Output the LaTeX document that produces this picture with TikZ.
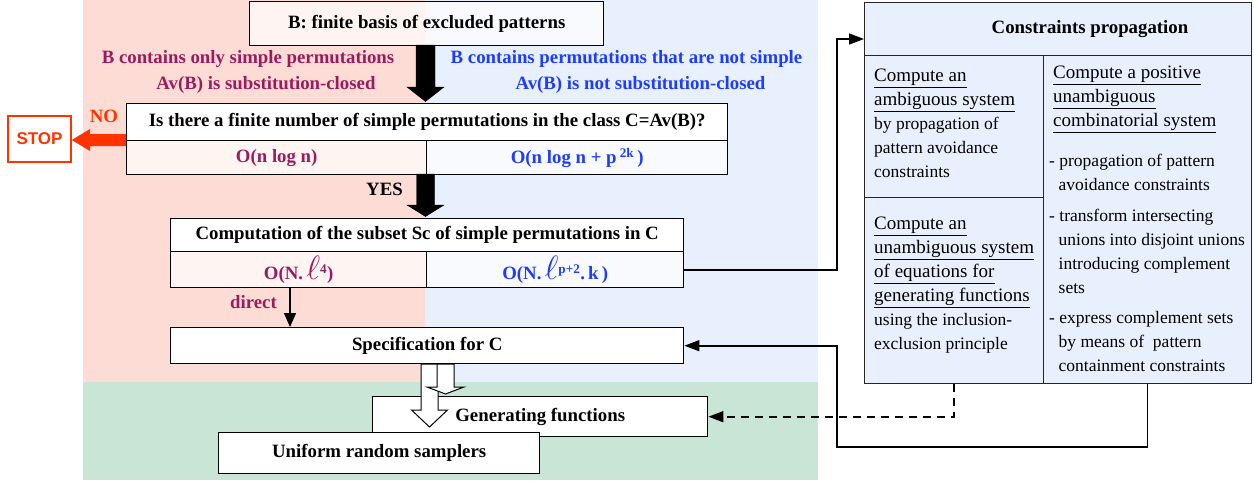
\documentclass[tikz,border=0pt]{standalone}
\usepackage{fontspec}
\usepackage{graphicx}
\setmainfont{Liberation Serif}
\newfontfamily\stopfont{Liberation Sans}
\usetikzlibrary{arrows.meta,calc}
\definecolor{pinkbg}{HTML}{FDDCD6}
\definecolor{bluebg}{HTML}{E8F0FD}
\definecolor{greenbg}{HTML}{C8E5D6}
\definecolor{purp}{HTML}{9B1C5E}
\definecolor{bluet}{HTML}{1E3CFF}
\definecolor{redc}{HTML}{FF3300}
\newcommand{\bfs}{\fontsize{18.8}{22}\selectfont\bfseries}
\newcommand{\rfs}{\fontsize{17.5}{24}\selectfont}
\newcommand{\ufs}{\fontsize{19}{24}\selectfont}
\newcommand{\myell}{\scalebox{1.95}{$\ell$}}
% block arrow: style, x centre, y top, y head base, y tip, half shaft, half head
\newcommand{\barrow}[7]{%
  \draw[#1] (#2-#6,#3) -- (#2+#6,#3) -- (#2+#6,#4) -- (#2+#7,#4) -- (#2,#5)
    -- (#2-#7,#4) -- (#2-#6,#4) -- cycle;}
\begin{document}
\begin{tikzpicture}[x=1pt,y=-1pt,
  box/.style={draw=black,line width=1.4pt,inner sep=0pt,anchor=north west,font=\bfs},
  semi/.style={fill=white,fill opacity=0.7,text opacity=1},
  cbox/.style={draw=black!85,line width=1.2pt,fill=bluebg,inner sep=0pt,anchor=north west},
  conn/.style={line width=1.6pt,-{Triangle[length=15pt,width=11pt]}},
  para/.style={align=left,anchor=north west,inner sep=0pt,font=\rfs},
  blk/.style={fill=black},
  wblk/.style={fill=white,draw=black,line width=1pt},
  lbl/.style={inner sep=0pt,font=\bfs}
]
\useasboundingbox (0,0) rectangle (1254,480);
% backgrounds
\fill[pinkbg] (83,0) rectangle (425,382);
\fill[bluebg] (425,0) rectangle (818,382);
\fill[greenbg] (83,382) rectangle (818,480);

% main boxes
\node[box,semi,minimum width=354,minimum height=44] (B) at (249,1) {B: finite basis of excluded patterns};
\node[box,fill=white,minimum width=601,minimum height=37] (Q) at (126,103) {Is there a finite number of simple permutations in the class C=Av(B)?};
\node[box,semi,minimum width=300,minimum height=34,text=purp] (Qa) at (126,140) {O(n log n)};
\node[box,semi,minimum width=301,minimum height=34,text=bluet] (Qb) at (426,140) {O(n log n + p\,\textsuperscript{2k}\,)};
\node[box,fill=white,minimum width=513,minimum height=33] (C) at (170,218) {Computation of the subset Sc of simple permutations in C};
\node[box,semi,minimum width=256,minimum height=36,text=purp] (Ca) at (170,251) {O(N.\,\myell\textsuperscript{4})};
\node[box,semi,minimum width=257,minimum height=36,text=bluet] (Cb) at (426,251) {O(N.\,\myell\textsuperscript{p+2}.\,k\,)};
\node[box,fill=white,minimum width=513,minimum height=36] (S) at (170,327) {Specification for C};
\node[box,fill=white,minimum width=335,minimum height=40] (G) at (372,396) {Generating functions};
\node[box,fill=white,minimum width=321,minimum height=41] (U) at (218,432) {Uniform random samplers};

% labels
\node[lbl,text=purp] (p1) at (248,59) {B contains only simple permutations};
\node[lbl,text=purp] (p2) at (266,85) {Av(B) is substitution-closed};
\node[lbl,text=bluet] (b1) at (626.5,59) {B contains permutations that are not simple};
\node[lbl,text=bluet] (b2) at (640.5,85) {Av(B) is not substitution-closed};
\node[lbl,text=redc] (no) at (104,116) {NO};
\node[lbl] (yes) at (384.5,189) {YES};
\node[lbl,text=purp] (dir) at (253.5,302) {direct};

% STOP
\node[draw=redc,line width=1.5pt,minimum width=63,minimum height=46,inner sep=0pt,
      font=\stopfont\fontsize{17}{20}\selectfont\bfseries,text=redc] (stop) at (39.5,139) {STOP};
\fill[redc] (Q.west |- 0,134) -- (90,134) -- (90,129) -- (stop.east |- 0,140) -- (90,151) -- (90,146) -- (Q.west |- 0,146) -- cycle;

% block arrows
\barrow{blk}{425.5}{45}{87}{101.5}{9.5}{18.5}
\barrow{blk}{425.5}{174}{205}{216.5}{9}{18.5}
\barrow{wblk}{429.5}{364}{410}{427}{8.5}{18}
\barrow{wblk}{445.5}{364}{387}{394}{8.5}{18.5}

% constraints propagation panel
\node[cbox,minimum width=387,minimum height=53] (H) at (864,2) {};
\node[cbox,minimum width=179,minimum height=142] (CL1) at (864,55) {};
\node[cbox,minimum width=179,minimum height=186] (CL2) at (864,197) {};
\node[cbox,minimum width=208,minimum height=328] (CR) at (1043,55) {};
\node[lbl] (Ht) at (1090,29) {Constraints propagation};

\node[para] (t1) at (874,69) {\ufs\underline{Compute an}\\\ufs\underline{ambiguous system}\\\rfs by propagation of\\\rfs pattern avoidance\\\rfs constraints};
\node[para] (t2) at (874,217) {\ufs\underline{Compute an}\\\ufs\underline{unambiguous system}\\\ufs\underline{of equations for}\\\ufs\underline{generating functions}\\\rfs using the inclusion-\\\rfs exclusion principle};
\node[para] (r1) at (1053,66) {\ufs\underline{Compute a positive}\\\ufs\underline{unambiguous}\\\ufs\underline{combinatorial system}};
\node[para] (r2) at (1049,154) {- propagation of pattern\\\hspace*{9.5pt}avoidance constraints};
\node[para] (r3) at (1049,209) {- transform intersecting\\\hspace*{9.5pt}unions into disjoint unions\\\hspace*{9.5pt}introducing complement\\\hspace*{9.5pt}sets};
\node[para] (r4) at (1049,311) {- express complement sets\\\hspace*{9.5pt}by means of~ pattern\\\hspace*{9.5pt}containment constraints};

% connectors
\coordinate (jx) at (837,0);
\coordinate (cpin) at (864,39);
\coordinate (low) at (0,447);
\draw[conn] (Cb.east) -- (Cb.east -| jx) -- (jx |- cpin) -- (cpin);
\draw[conn] (CR.south) -- (CR.south |- low) -- (jx |- low) -- (jx |- S.east) -- (S.east);
\draw[conn,dashed,dash pattern=on 8pt off 6pt] (CL2.south) -- (CL2.south |- G.east) -- (G.east);
\coordinate (dx) at (290,0);
\draw[line width=1.4pt,-{Triangle[length=14pt,width=12pt]}] (dx |- Ca.south) -- (dx |- S.north);
\end{tikzpicture}
\end{document}
